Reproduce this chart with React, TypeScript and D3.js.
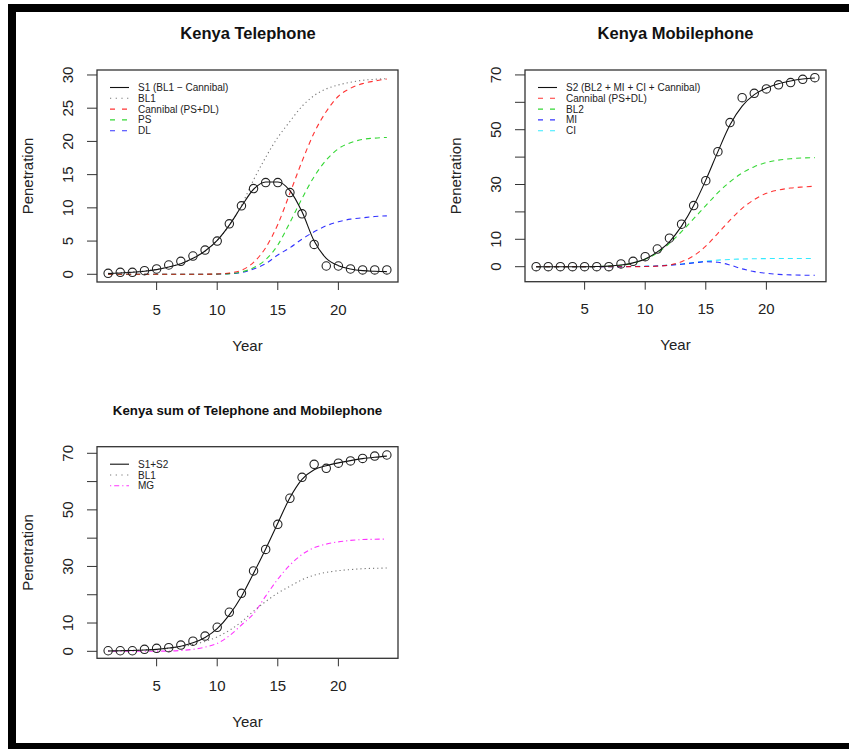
import * as d3 from 'd3';

// years on the x axis
const years = [1, 2, 3, 4, 5, 6, 7, 8, 9, 10, 11, 12, 13, 14, 15, 16, 17, 18, 19, 20, 21, 22, 23, 24];
const xTicks = [5, 10, 15, 20];

// Kenya Telephone
const telObserved = [0.15, 0.3, 0.3, 0.55, 0.8, 1.4, 1.95, 2.75, 3.65, 5.0, 7.6, 10.3, 12.9, 13.8, 13.8, 12.3, 9.1, 4.5, 1.25, 1.25, 0.8, 0.65, 0.65, 0.65];
const telS1 = [0.1, 0.2, 0.3, 0.45, 0.7, 1.1, 1.6, 2.4, 3.5, 5.1, 7.4, 10.2, 12.8, 13.9, 13.9, 12.6, 9.4, 5.0, 2.4, 1.3, 0.8, 0.55, 0.45, 0.4];
const bl1 = [0.15, 0.25, 0.35, 0.5, 0.75, 1.1, 1.6, 2.4, 3.5, 5.1, 7.4, 10.4, 14.2, 17.6, 20.6, 23.0, 25.3, 26.9, 27.9, 28.5, 28.9, 29.2, 29.35, 29.45];
const cannibal = [0, 0, 0, 0, 0, 0, 0, 0, 0.02, 0.05, 0.2, 0.6, 1.8, 4.0, 7.5, 12.2, 17.0, 21.3, 24.5, 26.8, 28.0, 28.7, 29.1, 29.4];
const ps = [0, 0, 0, 0, 0, 0, 0, 0, 0.01, 0.03, 0.1, 0.35, 1.0, 2.2, 4.4, 7.8, 11.4, 14.7, 17.2, 18.9, 19.8, 20.3, 20.5, 20.6];
const dl = [0, 0, 0, 0, 0, 0, 0, 0, 0.01, 0.02, 0.1, 0.25, 0.8, 1.6, 2.9, 4.0, 5.3, 6.4, 7.3, 7.9, 8.3, 8.5, 8.7, 8.8];

// Kenya Mobilephone
const mobObserved = [0, 0, 0, 0, 0, 0, 0, 1.0, 1.95, 3.65, 6.45, 10.4, 15.5, 22.3, 31.4, 42.0, 52.6, 61.7, 63.3, 64.9, 66.4, 67.2, 68.4, 69.0];
const mobS2 = [0, 0, 0, 0, 0, 0.05, 0.2, 0.6, 1.4, 2.8, 5.4, 9.1, 14.8, 22.3, 31.6, 42.0, 51.8, 58.6, 62.8, 65.2, 66.8, 67.8, 68.5, 68.9];
const bl2 = [0, 0, 0, 0, 0, 0.05, 0.2, 0.5, 1.3, 2.7, 5.0, 8.5, 12.8, 17.5, 22.3, 27.0, 31.0, 34.2, 36.5, 38.0, 38.9, 39.4, 39.7, 39.8];
const mi = [0, 0, 0, 0, 0, 0, 0, 0.02, 0.05, 0.1, 0.25, 0.5, 0.9, 1.4, 1.8, 1.6, 0.6, -0.8, -1.8, -2.4, -2.8, -3.0, -3.1, -3.1];
const ci = [0, 0, 0, 0, 0, 0, 0.01, 0.03, 0.08, 0.15, 0.35, 0.65, 1.0, 1.5, 2.0, 2.4, 2.65, 2.8, 2.9, 2.95, 3.0, 3.0, 3.0, 3.0];

// Kenya sum
const sumObserved = [0.2, 0.2, 0.2, 0.7, 1.05, 1.3, 2.2, 3.6, 5.4, 8.5, 13.8, 20.5, 28.4, 36.0, 44.9, 54.1, 61.5, 66.1, 64.7, 66.5, 67.3, 68.2, 69.0, 69.4];
const sumFit = [0.1, 0.2, 0.3, 0.45, 0.7, 1.15, 1.8, 3.0, 4.9, 8.0, 12.9, 19.4, 27.6, 36.2, 45.3, 54.3, 60.8, 64.2, 65.6, 66.6, 67.4, 68.1, 68.6, 69.0];
const mg = [0, 0, 0, 0.02, 0.05, 0.1, 0.3, 0.7, 1.5, 2.8, 5.5, 9.3, 13.3, 19.5, 25.5, 30.5, 34.2, 36.6, 37.9, 38.7, 39.2, 39.5, 39.6, 39.7];

const FONT = '"Liberation Sans", Arial, Helvetica, sans-serif';
const DASH = '5,4';
const DOT = '1.2,3';
const DOTDASH = '1.2,3,5,3';
const LEG_DASH = '5,7';
const LEG_DOT = '1.2,4.5';

type Series = { values: number[]; color: string; dash?: string; label: string; legendDash?: string };

type PanelProps = {
  left: number; right: number; top: number; bottom: number;
  yDomain: [number, number];
  yTicks: number[];
  yLabels: number[];
  title: string; titleX: number; titleY: number; titleSize: number;
  observed: number[];
  series: Series[];
};

function Panel(p: PanelProps) {
  const x = d3.scaleLinear().domain([0.08, 24.92]).range([p.left, p.right]);
  const y = d3.scaleLinear().domain(p.yDomain).range([p.bottom, p.top]);
  const line = d3.line<number>()
    .x((_, i) => x(years[i]))
    .y(d => y(d))
    .curve(d3.curveMonotoneX);
  const midY = (p.top + p.bottom) / 2;
  const midX = (p.left + p.right) / 2;

  return (
    <g fontFamily={FONT}>
      <text x={p.titleX} y={p.titleY} textAnchor="middle" dominantBaseline="central"
        fontWeight="bold" fontSize={p.titleSize} fill="#111">{p.title}</text>

      {/* fitted curves, drawn in reverse so the black one sits on top */}
      {[...p.series].reverse().map(s => (
        <path key={s.label} d={line(s.values) || ''} fill="none" stroke={s.color}
          strokeWidth={1.1} strokeDasharray={s.dash} strokeOpacity={s.dash ? 0.8 : 1} />
      ))}

      {p.observed.map((v, i) => (
        <circle key={i} cx={x(years[i])} cy={y(v)} r={4.2} fill="none" stroke="#222" strokeWidth={1.1} />
      ))}

      <rect x={p.left} y={p.top} width={p.right - p.left} height={p.bottom - p.top}
        fill="none" stroke="#333" strokeWidth={1.3} />

      {/* x axis */}
      {xTicks.map(t => (
        <g key={t}>
          <line x1={x(t)} x2={x(t)} y1={p.bottom} y2={p.bottom + 8} stroke="#333" />
          <text x={x(t)} y={p.bottom + 27} textAnchor="middle" dominantBaseline="central"
            fontSize={15} fill="#222">{t}</text>
        </g>
      ))}
      <text x={midX} y={p.bottom + 63} textAnchor="middle" dominantBaseline="central"
        fontSize={15} fill="#222">Year</text>

      {/* y axis */}
      {p.yTicks.map(t => (
        <line key={t} x1={p.left - 10} x2={p.left} y1={y(t)} y2={y(t)} stroke="#333" />
      ))}
      {p.yLabels.map(t => (
        <text key={t} transform={`translate(${p.left - 30},${y(t)}) rotate(-90)`}
          textAnchor="middle" dominantBaseline="central" fontSize={15} fill="#222">{t}</text>
      ))}
      <text transform={`translate(${p.left - 70},${midY}) rotate(-90)`}
        textAnchor="middle" dominantBaseline="central" fontSize={15} fill="#222">Penetration</text>

      {/* legend */}
      {p.series.map((s, i) => {
        const ly = p.top + 17.5 + i * 10.8;
        return (
          <g key={s.label}>
            <line x1={p.left + 13} x2={p.left + 32} y1={ly} y2={ly} stroke={s.color}
              strokeWidth={1.1} strokeDasharray={s.legendDash ?? s.dash} strokeOpacity={s.dash ? 0.8 : 1} />
            <text x={p.left + 41} y={ly} dominantBaseline="central" fontSize={10} fill="#222">{s.label}</text>
          </g>
        );
      })}
    </g>
  );
}

export default function App() {
  return (
    <div style={{ position: 'fixed', left: 0, top: 0 }}>
      <svg width={849} height={749} style={{ display: 'block', background: '#fff' }}>
        <rect x={0} y={0} width={849} height={749} fill="#fff" />
        <Panel left={97} right={398} top={70} bottom={282}
          yDomain={[-1.16, 30.75]} yTicks={[0, 5, 10, 15, 20, 25, 30]} yLabels={[0, 5, 10, 15, 20, 25, 30]}
          title="Kenya Telephone" titleX={248} titleY={33} titleSize={16.5}
          observed={telObserved}
          series={[
            { values: telS1, color: '#111', label: 'S1 (BL1 − Cannibal)' },
            { values: bl1, color: '#555', dash: DOT, legendDash: LEG_DOT, label: 'BL1' },
            { values: cannibal, color: '#ff0000', dash: DASH, legendDash: LEG_DASH, label: 'Cannibal (PS+DL)' },
            { values: ps, color: '#00cd00', dash: DASH, legendDash: LEG_DASH, label: 'PS' },
            { values: dl, color: '#0000ff', dash: DASH, legendDash: LEG_DASH, label: 'DL' },
          ]} />
        <Panel left={525} right={826} top={70} bottom={281.7}
          yDomain={[-5.48, 71.8]} yTicks={[0, 10, 20, 30, 40, 50, 60, 70]} yLabels={[0, 10, 30, 50, 70]}
          title="Kenya Mobilephone" titleX={675.5} titleY={33} titleSize={16.5}
          observed={mobObserved}
          series={[
            { values: mobS2, color: '#111', label: 'S2 (BL2 + MI + CI + Cannibal)' },
            { values: cannibal, color: '#ff0000', dash: DASH, legendDash: LEG_DASH, label: 'Cannibal (PS+DL)' },
            { values: bl2, color: '#00cd00', dash: DASH, legendDash: LEG_DASH, label: 'BL2' },
            { values: mi, color: '#0000ff', dash: DASH, legendDash: LEG_DASH, label: 'MI' },
            { values: ci, color: '#00e5ff', dash: DASH, legendDash: LEG_DASH, label: 'CI' },
          ]} />
        <Panel left={97} right={398} top={446.7} bottom={658.3}
          yDomain={[-2.47, 72.33]} yTicks={[0, 10, 20, 30, 40, 50, 60, 70]} yLabels={[0, 10, 30, 50, 70]}
          title="Kenya sum of Telephone and Mobilephone" titleX={247.5} titleY={410} titleSize={13.3}
          observed={sumObserved}
          series={[
            { values: sumFit, color: '#111', label: 'S1+S2' },
            { values: bl1, color: '#555', dash: DOT, legendDash: LEG_DOT, label: 'BL1' },
            { values: mg, color: '#ff00ff', dash: DOTDASH, label: 'MG' },
          ]} />
        {/* black frame around the figure */}
        <rect x={8} y={4} width={8} height={745} fill="#000" />
        <rect x={8} y={4} width={841} height={8} fill="#000" />
        <rect x={8} y={743} width={841} height={6} fill="#000" />
      </svg>
    </div>
  );
}
